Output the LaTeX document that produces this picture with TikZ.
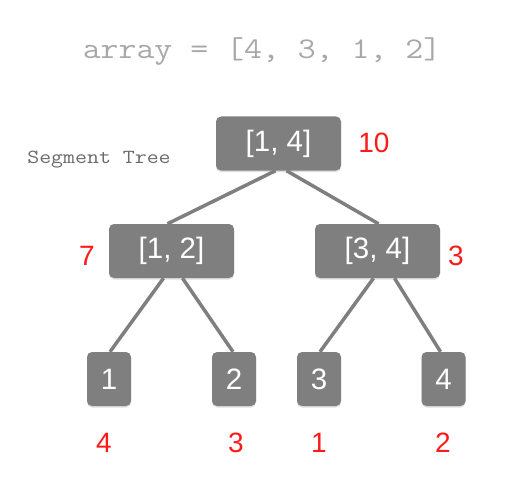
\documentclass[tikz,border=0pt]{standalone}
\usepackage{fontspec}
\setmainfont{Liberation Sans}
\newfontfamily\monofont[FakeStretch=1.16]{Latin Modern Mono}
\usetikzlibrary{backgrounds,shadows}
\definecolor{boxgray}{HTML}{7F7F7F}
\definecolor{arraygray}{HTML}{A8A8A8}
\definecolor{labelgray}{HTML}{6A6A6A}
\definecolor{numred}{HTML}{FF1A1A}
\tikzset{
  segbox/.style={fill=boxgray, rounded corners=5pt, inner sep=0pt, text=white,
    font=\fontsize{29.5}{30}\selectfont,
    drop shadow={opacity=0.25, shadow xshift=0pt, shadow yshift=-1.5pt}},
  widebox/.style={segbox, minimum width=125pt, minimum height=54pt},
  leafbox/.style={segbox, minimum width=44pt, minimum height=54pt},
  sumlabel/.style={text=numred, font=\fontsize{28}{30}\selectfont, inner sep=0pt},
  treeedge/.style={draw=boxgray, line width=3.5pt}
}
\begin{document}
\begin{tikzpicture}[x=1pt,y=-1pt]
\useasboundingbox (0,0) rectangle (522,484);
\node[text=arraygray, font=\monofont\fontsize{30}{30}\selectfont, inner sep=0pt] (arr) at (262,52) {array = [4, 3, 1, 2]};
\node[text=labelgray, font=\monofont\fontsize{20}{20}\selectfont, inner sep=0pt] (lbl) at (99,160) {Segment Tree};

\node[widebox] (root) at (278.5,143.5) {[1, 4]};
\node[widebox] (lm) at (171.5,251) {[1, 2]};
\node[widebox] (rm) at (377.5,251) {[3, 4]};
\node[leafbox] (l1) at (109,379) {1};
\node[leafbox] (l2) at (234,379) {2};
\node[leafbox] (l3) at (319,379) {3};
\node[leafbox] (l4) at (443.5,379) {4};

\node[sumlabel] (s0) at (374,143) {10};
\node[sumlabel] (s1) at (87,256) {7};
\node[sumlabel] (s2) at (456,256) {3};
\node[sumlabel] (s3) at (104,443) {4};
\node[sumlabel] (s4) at (236,443) {3};
\node[sumlabel] (s5) at (319,443) {1};
\node[sumlabel] (s6) at (443,443) {2};

\begin{scope}[on background layer]
\draw[treeedge] ([xshift=-3pt]root.south) -- ([xshift=-4pt]lm.north);
\draw[treeedge] ([xshift=8pt]root.south) -- ([xshift=1pt]rm.north);
\draw[treeedge] ([xshift=-8pt]lm.south) -- ([xshift=1pt]l1.north);
\draw[treeedge] ([xshift=11pt]lm.south) -- ([xshift=-1pt]l2.north);
\draw[treeedge] ([xshift=-4pt]rm.south) -- ([xshift=1pt]l3.north);
\draw[treeedge] ([xshift=17pt]rm.south) -- ([xshift=-3pt]l4.north);
\end{scope}
\end{tikzpicture}
\end{document}
